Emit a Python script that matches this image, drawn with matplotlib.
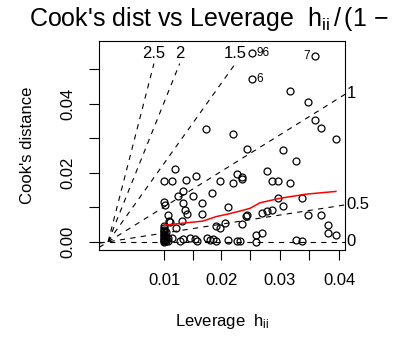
import matplotlib
matplotlib.use("Agg")
import matplotlib.pyplot as plt


# -----------------------------
# Data: leverage ratio h/(1-h) and Cook's distance
# -----------------------------
lev_ratio = [
    0.0259, 0.0259, 0.0373, 0.0328, 0.0361, 0.0373, 0.0385, 0.0411,
    0.0176, 0.0225, 0.0250, 0.0316, 0.0339, 0.0241, 0.0286, 0.0296,
    0.0307, 0.0328, 0.0307, 0.0349, 0.0316, 0.0296, 0.0286, 0.0277,
    0.0250, 0.0241, 0.0361, 0.0385, 0.0397, 0.0397, 0.0411, 0.0267,
    0.0277, 0.0267, 0.0238, 0.0339, 0.0349, 0.0121, 0.0101, 0.0115,
    0.0140, 0.0158, 0.0202, 0.0232, 0.0241, 0.0225, 0.0136, 0.0127,
    0.0154, 0.0188, 0.0101, 0.0103, 0.0136, 0.0170, 0.0139, 0.0142,
    0.0170, 0.0217, 0.0108, 0.0112, 0.0101, 0.0123, 0.0195, 0.0202,
    0.0211, 0.0249, 0.0109, 0.0133, 0.0129, 0.0147, 0.0161, 0.0179,
    0.0183, 0.0195, 0.0217, 0.0232, 0.0190, 0.0136, 0.0157, 0.0115,
    0.0101, 0.0101, 0.0101, 0.0101, 0.0101, 0.0101, 0.0101, 0.0101,
    0.0101, 0.0101, 0.0101, 0.0101, 0.0104, 0.0104, 0.0104, 0.0104,
    0.0108, 0.0108,
]

cooks_d = [
    0.0546, 0.0473, 0.0538, 0.0437, 0.0405, 0.0352, 0.0329, 0.0297,
    0.0326, 0.0311, 0.0270, 0.0267, 0.0233, 0.0187, 0.0206, 0.0177,
    0.0177, 0.0171, 0.0126, 0.0127, 0.0105, 0.0093, 0.0088, 0.0082,
    0.0078, 0.0051, 0.0078, 0.0078, 0.0049, 0.0024, 0.0020, 0.0020,
    0.0024, 0.0000, 0.0003, 0.0005, 0.0003, 0.0211, 0.0177, 0.0177,
    0.0179, 0.0190, 0.0177, 0.0197, 0.0182, 0.0171, 0.0148, 0.0134,
    0.0134, 0.0140, 0.0116, 0.0107, 0.0111, 0.0111, 0.0092, 0.0081,
    0.0081, 0.0100, 0.0078, 0.0056, 0.0047, 0.0040, 0.0047, 0.0040,
    0.0053, 0.0076, 0.0061, 0.0061, 0.0003, 0.0011, 0.0003, 0.0011,
    0.0005, 0.0003, 0.0005, 0.0003, 0.0008, 0.0008, 0.0009, 0.0010,
    0.0000, 0.0003, 0.0006, 0.0009, 0.0012, 0.0016, 0.0019, 0.0023,
    0.0027, 0.0031, 0.0035, 0.0040, 0.0001, 0.0007, 0.0015, 0.0028,
    0.0002, 0.0012,
]

# labelled observations (index into the arrays above)
id_index = [0, 1, 2]
id_text = ["96", "6", "7"]
id_side = ["right", "right", "left"]

# smoother through the points
smooth_x = [0.0101, 0.0135, 0.0171, 0.0195, 0.0215, 0.0238, 0.0256,
            0.0274, 0.0310, 0.0357, 0.0411]
smooth_y = [0.0048, 0.0054, 0.0060, 0.0073, 0.0080, 0.0089, 0.0097,
            0.0113, 0.0126, 0.0138, 0.0146]

# standardized residual contours
contour_levels = [0, 0.5, 1, 1.5, 2, 2.5]
n_coef = 1

lev_ticks = [0.01, 0.015, 0.02, 0.025, 0.03, 0.035, 0.04]
lev_tick_labels = ["0.01", "", "0.02", "", "0.03", "", "0.04"]
cook_ticks = [0.0, 0.01, 0.02, 0.03, 0.04, 0.05]
cook_tick_labels = ["0.00", "", "0.02", "", "0.04", ""]


# -----------------------------
# Style
# -----------------------------
plt.rcParams["font.family"] = ["Liberation Sans", "DejaVu Sans"]
plt.rcParams["mathtext.fontset"] = "custom"
plt.rcParams["mathtext.rm"] = "Liberation Sans"
plt.rcParams["mathtext.it"] = "Liberation Sans"
plt.rcParams["lines.scale_dashes"] = False

W, H = 393, 338
fig = plt.figure(figsize=(W / 100, H / 100), dpi=100)
ax_l, ax_r, ax_t, ax_b = 99, 345, 41, 249.5
ax = fig.add_axes([ax_l / W, 1 - ax_b / H, (ax_r - ax_l) / W, (ax_b - ax_t) / H])

gmax = max(lev_ratio)
ax.set_xlim(-0.04 * gmax, 1.04 * gmax)
ytop = max(cooks_d) * 1.025
ax.set_ylim(-0.04 * ytop, 1.04 * ytop)
x0, x1 = ax.get_xlim()
y0, y1 = ax.get_ylim()


# -----------------------------
# Points, smoother, labels
# -----------------------------
ax.plot(lev_ratio, cooks_d, "o", mfc="none", mec="black", ms=5, mew=0.9)

ax.plot(smooth_x, smooth_y, color="red", lw=1.1)

for i, txt, side in zip(id_index, id_text, id_side):
    dx = 3.6 if side == "right" else -3.6
    ax.annotate(txt, (lev_ratio[i], cooks_d[i]), xytext=(dx, 0),
                textcoords="offset points", ha="left" if side == "right" else "right",
                va="center", fontsize=8.5)


# -----------------------------
# Contour lines of constant residual
# -----------------------------
sh = (y1 - y0) * 15 / (ax_b - ax_t)
sw = (x1 - x0) * 4.6 / (ax_r - ax_l)
dash = (0, (3.8, 3.8))

for b in contour_levels:
    b2 = b ** 2
    if n_coef * y1 > b2 * x1:
        ax.axline((0, 0), slope=b2 / n_coef, ls=dash, color="black", lw=0.8)
        xi = x1 + sw / 3
        yi = b2 * xi / n_coef
        ax.text(xi, yi, f"{b:g}", ha="left", va="center", fontsize=12,
                clip_on=False)
    else:
        yi = y1 - 1.5 * sh
        xi = n_coef * yi / b2
        ax.plot([0, xi], [0, yi], ls=dash, color="black", lw=0.8)
        ax.text(xi, y1 - 0.8 * sh, f"{b:g}", ha="center", va="center",
                fontsize=12, clip_on=False)


# -----------------------------
# Axes
# -----------------------------
ax.set_xticks([h / (1 - h) for h in lev_ticks])
ax.set_xticklabels(lev_tick_labels)
ax.set_yticks(cook_ticks)
ax.set_yticklabels(cook_tick_labels, rotation=90, va="center")
ax.tick_params(direction="out", length=7.2, width=0.8, pad=10, labelsize=12)
for s in ax.spines.values():
    s.set_linewidth(0.8)

ax.set_xlabel("Leverage  $h_{ii}$", fontsize=12)
ax.xaxis.set_label_coords(0.5, -0.30)
ax.set_ylabel("Cook's distance", fontsize=12)
ax.yaxis.set_label_coords(-0.26, 0.5)

# title runs past the right edge of the figure
fig.text(29 / W, 1 - 26 / H, "Cook's dist vs Leverage  $h_{ii}\\,/\\,(1\\,-\\,h_{ii})$",
         ha="left", va="baseline", fontsize=18)

plt.savefig("out.png", dpi=100)
plt.close()
